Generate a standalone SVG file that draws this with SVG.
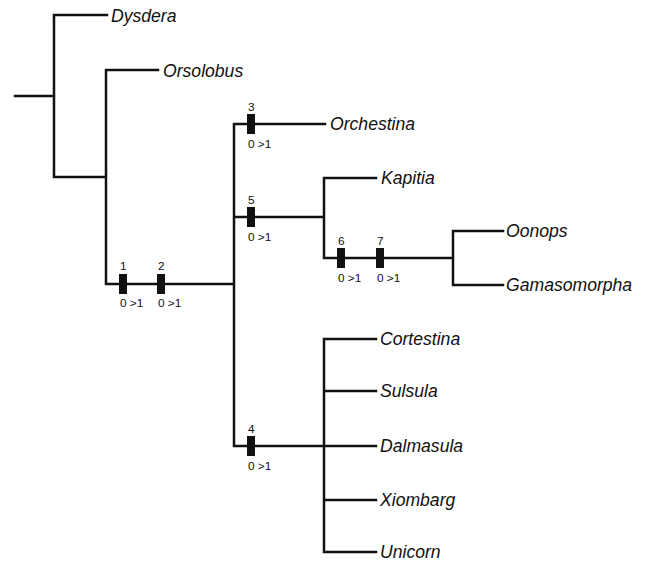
<svg xmlns="http://www.w3.org/2000/svg" width="651" height="561" viewBox="0 0 651 561">
<style>
.br{fill:none;stroke:#111;stroke-width:2.5;stroke-linecap:square}
.tx{font-family:"Liberation Sans",Arial,sans-serif;font-style:italic;font-size:17.6px;fill:#111}
.sm{font-family:"Liberation Sans",Arial,sans-serif;font-size:11.8px;fill:#111}
.mk{fill:#111}
</style>
<rect width="651" height="561" fill="#fff"/>
<g id="connectors">
<path class="br" d="M15,96 H54 M54,15 V177 M54,15 H107 M54,177 H106 M106,70 V284 M106,70 H158 M106,284 H234 M234,124 V446 M234,124 H325 M234,217 H324 M324,178 V258 M324,178 H376 M324,258 H453 M453,231 V285 M453,231 H503 M453,285 H503 M234,446 H376 M324,339 V552 M324,339 H376 M324,391 H376 M324,500 H376 M324,552 H376"/>
</g>
<g id="taxa">
<g id="Dysdera"><text class="tx" x="111" y="22">Dysdera</text></g>
<g id="Orsolobus"><text class="tx" x="163" y="77">Orsolobus</text></g>
<g id="Orchestina"><text class="tx" x="330" y="130">Orchestina</text></g>
<g id="Kapitia"><text class="tx" x="381" y="184">Kapitia</text></g>
<g id="Oonops"><text class="tx" x="506" y="237">Oonops</text></g>
<g id="Gamasomorpha"><text class="tx" x="506" y="291">Gamasomorpha</text></g>
<g id="Cortestina"><text class="tx" x="380" y="345">Cortestina</text></g>
<g id="Sulsula"><text class="tx" x="380" y="397">Sulsula</text></g>
<g id="Dalmasula"><text class="tx" x="380" y="452">Dalmasula</text></g>
<g id="Xiombarg"><text class="tx" x="380" y="506">Xiombarg</text></g>
<g id="Unicorn"><text class="tx" x="380" y="558">Unicorn</text></g>
</g>
<g id="characters">
<g id="c1"><rect class="mk" x="119" y="274" width="8" height="20"/><text class="sm" x="120" y="270">1</text><text class="sm" x="120" y="307">0 &gt;1</text></g>
<g id="c2"><rect class="mk" x="157" y="274" width="8" height="20"/><text class="sm" x="158" y="270">2</text><text class="sm" x="158" y="307">0 &gt;1</text></g>
<g id="c3"><rect class="mk" x="247" y="114" width="8" height="20"/><text class="sm" x="248" y="111">3</text><text class="sm" x="248" y="148">0 &gt;1</text></g>
<g id="c5"><rect class="mk" x="247" y="207" width="8" height="20"/><text class="sm" x="248" y="204">5</text><text class="sm" x="248" y="241">0 &gt;1</text></g>
<g id="c6"><rect class="mk" x="337" y="248" width="8" height="20"/><text class="sm" x="338" y="245">6</text><text class="sm" x="338" y="282">0 &gt;1</text></g>
<g id="c7"><rect class="mk" x="376" y="248" width="8" height="20"/><text class="sm" x="377" y="245">7</text><text class="sm" x="377" y="282">0 &gt;1</text></g>
<g id="c4"><rect class="mk" x="247" y="436" width="8" height="20"/><text class="sm" x="248" y="433">4</text><text class="sm" x="248" y="470">0 &gt;1</text></g>
</g>
</svg>
